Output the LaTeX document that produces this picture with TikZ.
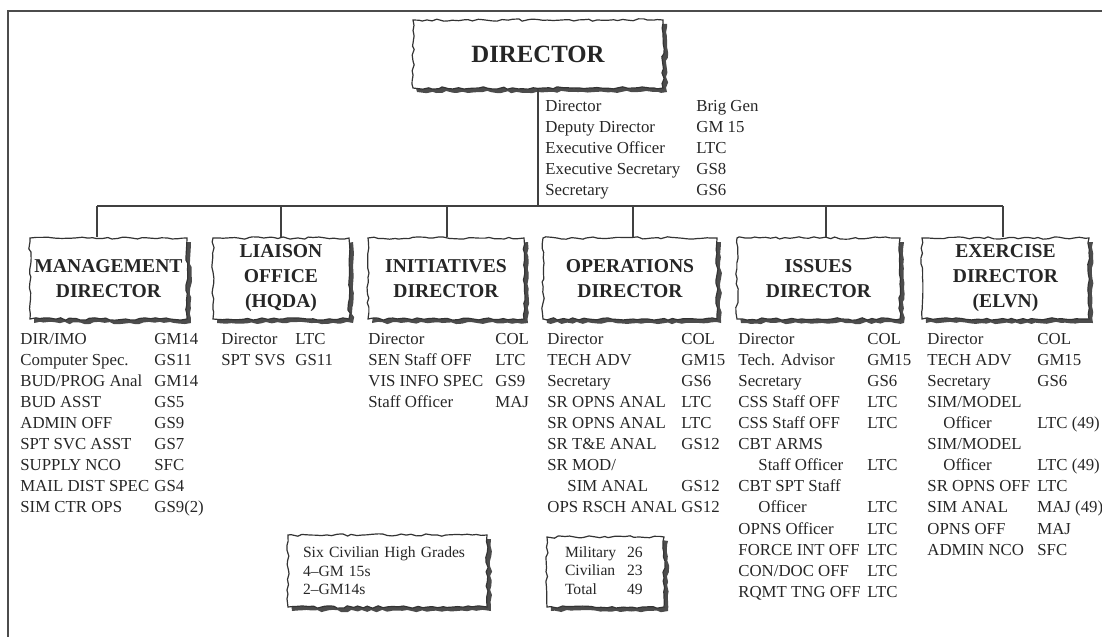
\documentclass[tikz,border=0pt]{standalone}
\usepackage{fontspec}
\setmainfont{Liberation Serif}
\usetikzlibrary{decorations.pathmorphing,shadows}

\begin{document}
\begin{tikzpicture}[x=0.5pt,y=-0.5pt]
\pgfmathsetseed{17}
\useasboundingbox (0,0) rectangle (1102,637);

\coordinate (C_0) at (8,11);
\coordinate (C_1) at (1102,11);
\coordinate (C_2) at (8,637);

\draw[line width=1.1pt, black!70] (C_1) -- (C_0) -- (C_2);


\tikzset{BoxStyle/.style = {
 draw = black!80,
 fill = white,
 line width = 0.6pt,
 decorate,
 decoration = {random steps, segment length=2.5pt, amplitude=0.6pt},
 drop shadow = {shadow xshift=2pt, shadow yshift=-2pt, opacity=1, fill=black!70},
 text = black!85,
 inner sep = 0pt} }
\tikzset{HeadStyle/.style = {
 BoxStyle,
 font = \fontsize{9.8}{12.5}\selectfont\bfseries,
 align = center,
 minimum height = 40.5pt} }
\tikzset{NoteStyle/.style = {
 BoxStyle,
 font = \fontsize{7.8}{9.25}\selectfont,
 align = left} }

\node[BoxStyle, font=\fontsize{12.4}{14}\selectfont\bfseries, minimum width=125pt, minimum height=34pt] (DIR) at (538,54) {DIRECTOR};

\node[HeadStyle, minimum width=78.5pt] (MGT) at (108.5,278.5) {MANAGEMENT\\DIRECTOR};
\node[HeadStyle, minimum width=68pt] (LIA) at (281,278.5) {LIAISON\\OFFICE\\(HQDA)};
\node[HeadStyle, minimum width=78pt] (INI) at (446,278.5) {INITIATIVES\\DIRECTOR};
\node[HeadStyle, minimum width=87pt] (OPS) at (630,278.5) {OPERATIONS\\DIRECTOR};
\node[HeadStyle, minimum width=81.5pt] (ISS) at (818.5,278.5) {ISSUES\\DIRECTOR};
\node[HeadStyle, minimum width=83.5pt] (EXE) at (1005.5,278.5) {EXERCISE\\DIRECTOR\\(ELVN)};


\tikzset{LineStyle/.style = {line width=1pt, black!75} }

\coordinate (B_0) at (538,206);
\coordinate (B_1) at (97,206);
\coordinate (B_2) at (281,206);
\coordinate (B_3) at (447,206);
\coordinate (B_4) at (633,206);
\coordinate (B_5) at (826,206);
\coordinate (B_6) at (1003,206);

\draw[LineStyle] (DIR.south) -- (B_0);
\draw[LineStyle] (B_1) -- (B_6);
\draw[LineStyle] (B_1) -- (B_1 |- MGT.north);
\draw[LineStyle] (B_2) -- (B_2 |- LIA.north);
\draw[LineStyle] (B_3) -- (B_3 |- INI.north);
\draw[LineStyle] (B_4) -- (B_4 |- OPS.north);
\draw[LineStyle] (B_5) -- (B_5 |- ISS.north);
\draw[LineStyle] (B_6) -- (B_6 |- EXE.north);


\tikzset{ListStyle/.style = {
 anchor = north west,
 inner sep = 0pt,
 text = black!85,
 font = \fontsize{8.4}{10.55}\selectfont} }

\node[ListStyle] (L_DIR) at (545,96) {\begin{tabular}{@{}p{75.5pt}@{}l@{}}
Director & Brig Gen\\
Deputy Director & GM 15\\
Executive Officer & LTC\\
Executive Secretary & GS8\\
Secretary & GS6
\end{tabular}};

\node[ListStyle] (L_MGT) at (20,329) {\begin{tabular}{@{}p{67pt}@{}l@{}}
DIR/IMO & GM14\\
Computer Spec. & GS11\\
BUD/PROG Anal & GM14\\
BUD ASST & GS5\\
ADMIN OFF & GS9\\
SPT SVC ASST & GS7\\
SUPPLY NCO & SFC\\
MAIL DIST SPEC & GS4\\
SIM CTR OPS & GS9(2)
\end{tabular}};

\node[ListStyle] (L_LIA) at (221,329) {\begin{tabular}{@{}p{37pt}@{}l@{}}
Director & LTC\\
SPT SVS & GS11
\end{tabular}};

\node[ListStyle] (L_INI) at (368,329) {\begin{tabular}{@{}p{63.5pt}@{}l@{}}
Director & COL\\
SEN Staff OFF & LTC\\
VIS INFO SPEC & GS9\\
Staff Officer & MAJ
\end{tabular}};

\node[ListStyle] (L_OPS) at (547,329) {\begin{tabular}{@{}p{67pt}@{}l@{}}
Director & COL\\
TECH ADV & GM15\\
Secretary & GS6\\
SR OPNS ANAL & LTC\\
SR OPNS ANAL & LTC\\
SR T\&E ANAL & GS12\\
SR MOD/ & \\
\hspace*{10pt}SIM ANAL & GS12\\
OPS RSCH ANAL & GS12
\end{tabular}};

\node[ListStyle] (L_ISS) at (738,329) {\begin{tabular}{@{}p{64.5pt}@{}l@{}}
Director & COL\\
Tech. Advisor & GM15\\
Secretary & GS6\\
CSS Staff OFF & LTC\\
CSS Staff OFF & LTC\\
CBT ARMS & \\
\hspace*{10pt}Staff Officer & LTC\\
CBT SPT Staff & \\
\hspace*{10pt}Officer & LTC\\
OPNS Officer & LTC\\
FORCE INT OFF & LTC\\
CON/DOC OFF & LTC\\
RQMT TNG OFF & LTC
\end{tabular}};

\node[ListStyle] (L_EXE) at (927,329) {\begin{tabular}{@{}p{55pt}@{}l@{}}
Director & COL\\
TECH ADV & GM15\\
Secretary & GS6\\
SIM/MODEL & \\
\hspace*{8pt}Officer & LTC (49)\\
SIM/MODEL & \\
\hspace*{8pt}Officer & LTC (49)\\
SR OPNS OFF & LTC\\
SIM ANAL & MAJ (49)\\
OPNS OFF & MAJ\\
ADMIN NCO & SFC
\end{tabular}};


\node[NoteStyle, text width=84.5pt, inner xsep=7.5pt, minimum height=36pt] (SIX) at (387.5,571) {Six Civilian High Grades\\4--GM 15s\\2--GM14s};
\node[NoteStyle, text width=40.5pt, inner xsep=9pt, minimum height=35pt] (MIL) at (605.5,572) {\begin{tabular}{@{}p{31pt}@{}l@{}}
Military & 26\\
Civilian & 23\\
Total & 49
\end{tabular}};

\end{tikzpicture}
\end{document}
